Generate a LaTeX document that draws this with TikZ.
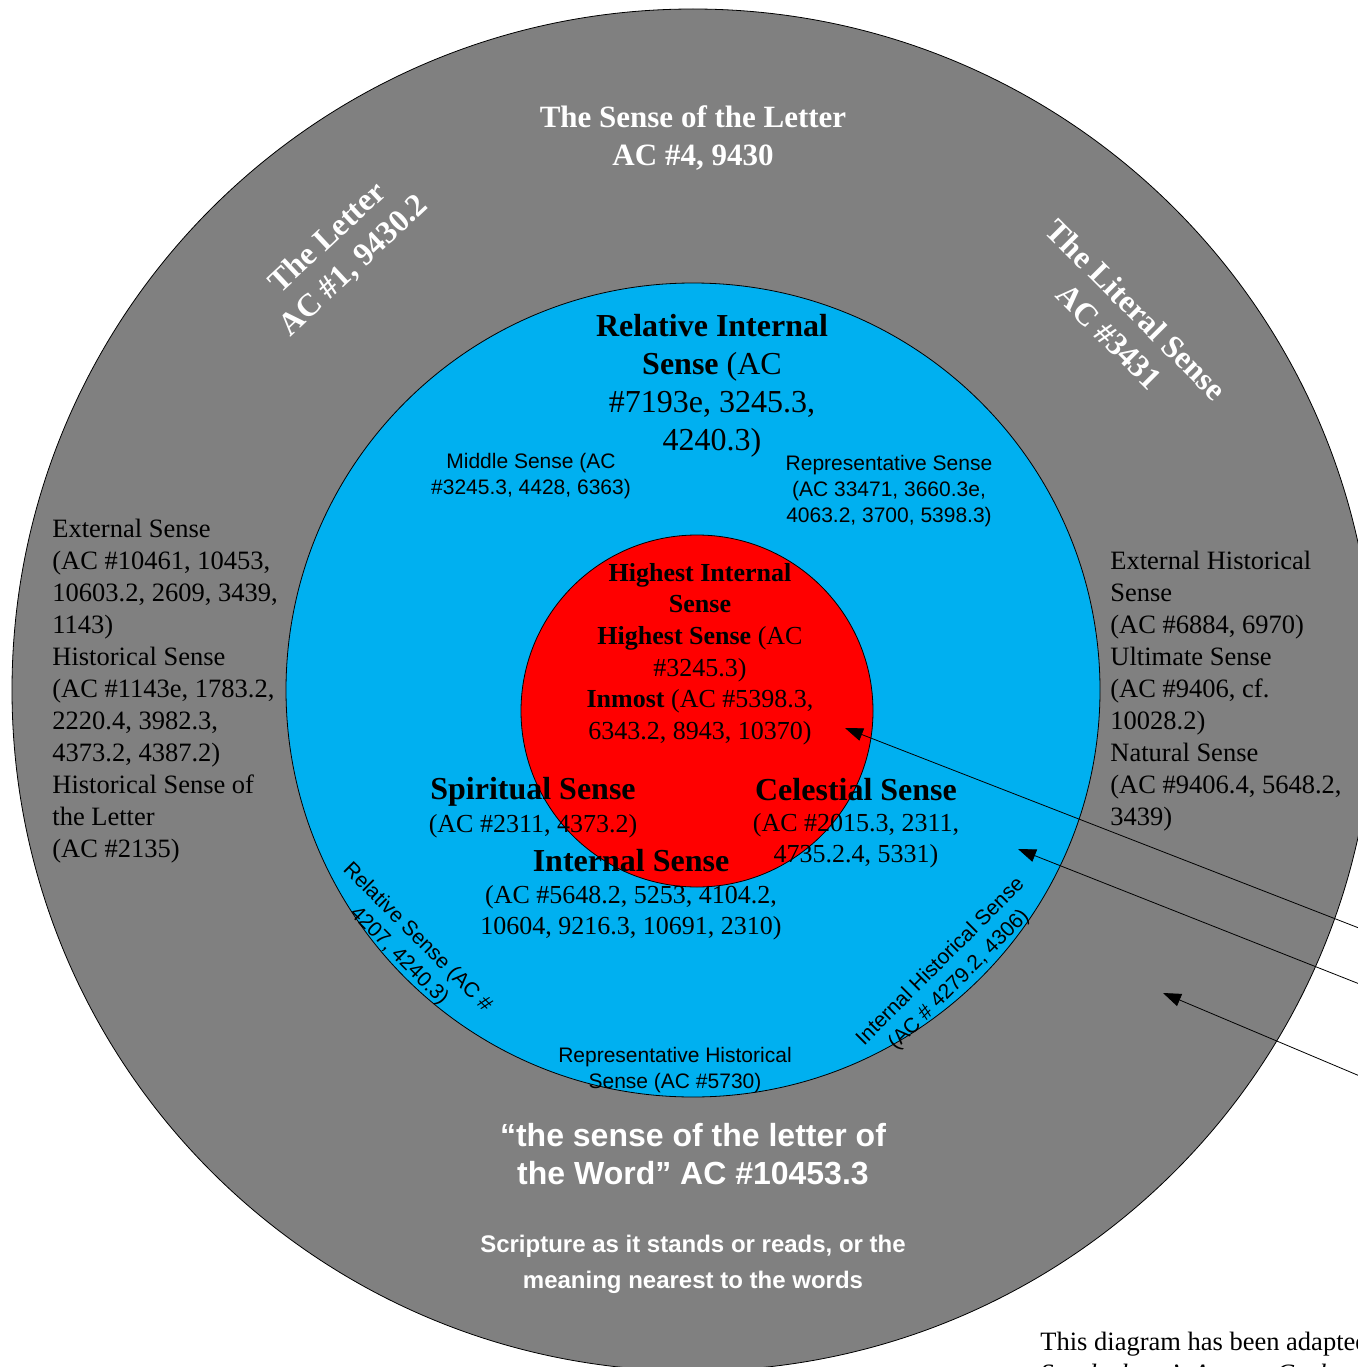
\documentclass[tikz,border=0pt]{standalone}
\usepackage{fontspec}
\setmainfont{Liberation Serif}
\setsansfont{Liberation Sans}
\usetikzlibrary{arrows.meta}
\definecolor{ringgray}{HTML}{808080}
\definecolor{skyblue}{HTML}{00B0F0}
\definecolor{corered}{HTML}{FF0000}
\newcommand{\fsz}[2]{\fontsize{#1}{#2}\selectfont}

\begin{document}
\begin{tikzpicture}[x=1pt, y=-1pt, inner sep=0pt, line width=0.8pt,
	whitehead/.style={text=white, font=\bfseries\fsz{31}{38}, align=center},
	sensehead/.style={font=\bfseries\fsz{32}{38}, align=center},
	senseref/.style={font=\fsz{26}{31}, align=center},
	senselist/.style={font=\fsz{26.5}{32}, align=left, anchor=north west},
	sansnote/.style={font=\sffamily\fsz{21}{26}, align=center},
	pointer/.style={-{Triangle[length=18pt,width=13pt]}, line width=0.8pt}]
	\useasboundingbox (0,0) rectangle (1357,1367);

	%rings
	\draw[fill=ringgray] (693,690) circle (681pt);
	\draw[fill=skyblue] (693,690) circle (407pt);
	\draw[fill=corered] (697,711) circle (176pt);

	%outer ring titles
	\node[whitehead] (letterhead) at (693,138) {The Sense of the Letter\\AC \#4, 9430};
	\node[whitehead, font=\bfseries\fsz{32}{38}, rotate=43] (letter) at (341,252) {The Letter\\AC \#1, 9430.2};
	\node[whitehead, font=\bfseries\fsz{32}{38}, rotate=-45] (literal) at (1123,323) {The Literal Sense\\AC \#3431};

	\node[senselist] (leftlist) at (52,519) {External Sense\\(AC \#10461, 10453,\\10603.2, 2609, 3439,\\1143)\\Historical Sense\\(AC \#1143e, 1783.2,\\2220.4, 3982.3,\\4373.2, 4387.2)\\Historical Sense of\\the Letter\\(AC \#2135)};
	\node[senselist] (rightlist) at (1110,551) {External Historical\\Sense\\(AC \#6884, 6970)\\Ultimate Sense\\(AC \#9406, cf.\\10028.2)\\Natural Sense\\(AC \#9406.4, 5648.2,\\3439)};

	\node[text=white, font=\sffamily\bfseries\fsz{32}{38}, align=center] (quote) at (693,1154) {“the sense of the letter of\\the Word” AC \#10453.3};
	\node[text=white, font=\sffamily\bfseries\fsz{24}{36}, align=center] (plain) at (693,1264) {Scripture as it stands or reads, or the\\meaning nearest to the words};

	%blue ring
	\node[align=center, font=\fsz{32}{38}] (relint) at (712,386) {\textbf{Relative Internal}\\\textbf{Sense} (AC\\\#7193e, 3245.3,\\4240.3)};
	\node[sansnote] (middle) at (531,476) {Middle Sense (AC\\\#3245.3, 4428, 6363)};
	\node[sansnote] (repr) at (889,491) {Representative Sense\\(AC 33471, 3660.3e,\\4063.2, 3700, 5398.3)};
	\node[sansnote, rotate=-45] (relative) at (408,947) {Relative Sense (AC \#\\4207, 4240.3)};
	\node[sansnote, rotate=45] (inthist) at (950,971) {Internal Historical Sense\\(AC \# 4279.2, 4306)};
	\node[sansnote] (reprhist) at (675,1070) {Representative Historical\\Sense (AC \#5730)};

	\node[sensehead] (spirit) at (533,792) {Spiritual Sense};
	\node[senseref] (spiritref) at (533,826) {(AC \#2311, 4373.2)};
	\node[sensehead] (celest) at (856,790) {Celestial Sense};
	\node[senseref] (celestref) at (856,841) {(AC \#2015.3, 2311,\\4735.2.4, 5331)};
	\node[sensehead] (internal) at (631,861) {Internal Sense};
	\node[senseref] (internalref) at (631,913) {(AC \#5648.2, 5253, 4104.2,\\10604, 9216.3, 10691, 2310)};

	%red core
	\node[align=center, font=\fsz{26}{31.6}] (highest) at (700,654) {\textbf{Highest Internal}\\\textbf{Sense}\\\textbf{Highest Sense} (AC\\\#3245.3)\\\textbf{Inmost} (AC \#5398.3,\\6343.2, 8943, 10370)};

	%pointers
	\coordinate (src1) at (1400,944);
	\coordinate (src2) at (1400,1000);
	\coordinate (src3) at (1400,1093);
	\coordinate (tip1) at (845,728);
	\coordinate (tip2) at (1018,849);
	\coordinate (tip3) at (1163,993);
	\draw[pointer] (src1) -- (tip1);
	\draw[pointer] (src2) -- (tip2);
	\draw[pointer] (src3) -- (tip3);

	\node[senselist] (credit) at (1040,1331) {This diagram has been adapted from\\\textit{Swedenborg's Arcana Coelestia}};
\end{tikzpicture}
\end{document}
